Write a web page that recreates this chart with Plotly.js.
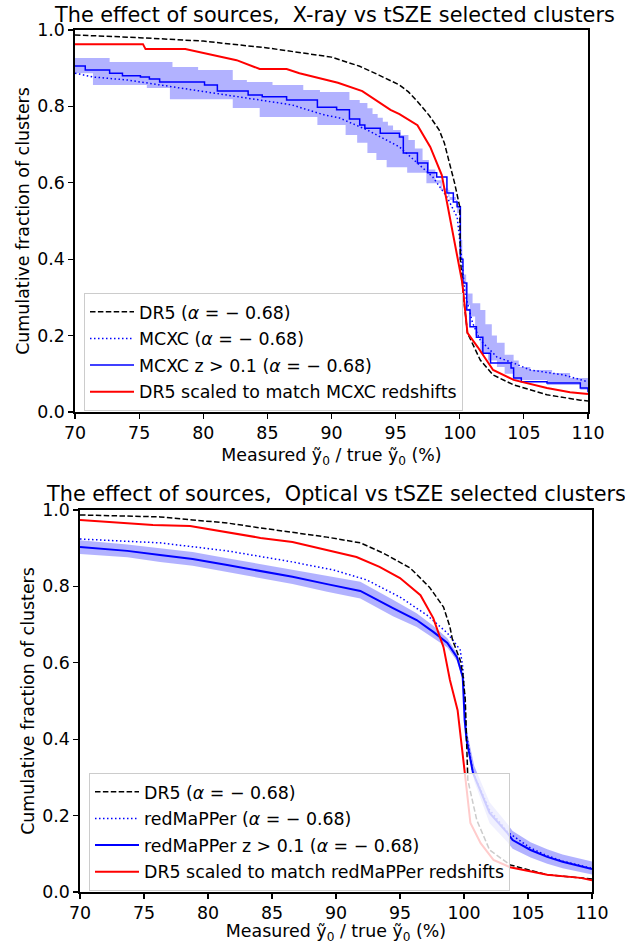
<!DOCTYPE html>
<html><head><meta charset="utf-8">
<script src="https://cdn.plot.ly/plotly-3.0.1.min.js"></script>
<style>html,body{margin:0;padding:0;background:#fff}#chart{width:625px;height:944px}</style>
</head><body><div id="chart"></div>
<script>
// ---------- Top panel: X-ray (MCXC) vs tSZE ----------
const topDr5X = [70, 75, 80, 85, 90, 92.2, 93.7, 95.3, 96.0, 96.8, 97.6, 98.4, 98.8, 99.2, 99.6, 100.0, 100.05, 100.3, 100.6, 101.6, 102.6, 104.2, 106.8, 109.4, 110];
const topDr5Y = [0.987, 0.980, 0.971, 0.953, 0.929, 0.905, 0.882, 0.856, 0.838, 0.809, 0.777, 0.738, 0.704, 0.652, 0.599, 0.537, 0.40, 0.30, 0.207, 0.136, 0.097, 0.071, 0.045, 0.031, 0.029];

const topRedX = [70, 75.3, 75.5, 78.6, 82.6, 84.4, 86.5, 87.5, 90.5, 92.4, 94.6, 95.3, 96.7, 97.7, 98.6, 99.1, 99.6, 100.2, 100.6, 101.4, 102.6, 104.2, 106.8, 108.6, 110];
const topRedY = [0.963, 0.963, 0.950, 0.950, 0.921, 0.898, 0.898, 0.887, 0.862, 0.840, 0.791, 0.780, 0.751, 0.694, 0.620, 0.530, 0.450, 0.338, 0.207, 0.170, 0.110, 0.084, 0.063, 0.052, 0.047];

const topMcxcX = [70, 71.4, 74.1, 76.6, 79.2, 81.8, 84.4, 86.9, 89.5, 90.6, 92.8, 95.3, 97.9, 99.0, 99.8, 100.1, 100.4, 101.0, 101.6, 102.9, 104.2, 105.5, 108.1, 110];
const topMcxcY = [0.887, 0.877, 0.869, 0.856, 0.843, 0.830, 0.817, 0.804, 0.777, 0.770, 0.738, 0.694, 0.615, 0.563, 0.510, 0.420, 0.312, 0.233, 0.188, 0.144, 0.128, 0.110, 0.097, 0.079];

const topMcxcZX = [70, 70.8, 72.7, 73.7, 75.1, 75.8, 76.6, 80.1, 81.1, 83.5, 84.6, 86.5, 88.9, 90.4, 91.4, 92.2, 92.6, 93.8, 95.3, 95.6, 96.7, 97.5, 98.2, 99.0, 99.5, 99.8, 100.05, 100.25, 100.55, 100.8, 101.3, 101.8, 102.4, 104.0, 104.2, 104.8, 106.8, 109.4, 110];
const topMcxcZY = [0.906, 0.895, 0.887, 0.880, 0.877, 0.872, 0.864, 0.856, 0.840, 0.830, 0.825, 0.817, 0.798, 0.791, 0.767, 0.751, 0.743, 0.730, 0.720, 0.678, 0.652, 0.626, 0.615, 0.573, 0.550, 0.537, 0.400, 0.338, 0.267, 0.223, 0.196, 0.154, 0.128, 0.115, 0.089, 0.079, 0.076, 0.063, 0.052];

const topBandUpX = [70, 72.7, 77.6, 79.6, 82.3, 83.4, 85.4, 87.8, 89.1, 91.4, 92.2, 92.8, 93.2, 93.6, 94.0, 94.4, 94.8, 95.4, 96.0, 96.5, 97.1, 97.6, 98.1, 98.6, 99.1, 99.7, 100.0, 100.2, 100.5, 101.0, 101.6, 102.0, 102.5, 102.9, 103.5, 104.2, 104.6, 105.5, 107.2, 108.6, 110];
const topBandUpY = [0.927, 0.916, 0.903, 0.895, 0.869, 0.864, 0.856, 0.843, 0.838, 0.817, 0.809, 0.795, 0.780, 0.770, 0.760, 0.750, 0.738, 0.725, 0.712, 0.690, 0.660, 0.635, 0.607, 0.585, 0.563, 0.537, 0.450, 0.360, 0.310, 0.285, 0.267, 0.230, 0.200, 0.181, 0.150, 0.135, 0.118, 0.110, 0.102, 0.089, 0.079];
const topBandLoX = [70, 71.4, 75.6, 77.4, 82.3, 84.4, 88.9, 91.1, 92.0, 92.8, 93.5, 94.3, 95.9, 97.4, 98.5, 99.2, 99.8, 100.0, 100.2, 100.4, 100.6, 100.8, 101.2, 101.6, 102.2, 102.9, 103.5, 104.2, 106.8, 109.4, 110];
const topBandLoY = [0.887, 0.856, 0.848, 0.819, 0.796, 0.772, 0.751, 0.725, 0.705, 0.678, 0.660, 0.641, 0.626, 0.599, 0.581, 0.555, 0.521, 0.400, 0.340, 0.312, 0.280, 0.250, 0.200, 0.154, 0.135, 0.118, 0.100, 0.084, 0.071, 0.058, 0.050];

// ---------- Bottom panel: Optical (redMaPPer) vs tSZE ----------
const botDr5X = [70, 76.25, 78.8, 81.5, 84.1, 86.6, 89.3, 91.9, 93.7, 95.8, 97.3, 98.4, 98.9, 99.1, 99.7, 99.9, 100.1, 100.2, 100.3, 101.0, 102.0, 103.6, 106.5, 109.1, 110];
const botDr5Y = [0.987, 0.982, 0.974, 0.966, 0.953, 0.942, 0.929, 0.914, 0.887, 0.848, 0.798, 0.746, 0.694, 0.660, 0.607, 0.573, 0.503, 0.398, 0.293, 0.188, 0.110, 0.071, 0.045, 0.037, 0.034];

const botRedX = [70, 74.1, 75.7, 78.6, 81.5, 84.1, 86.6, 89.3, 90.3, 91.6, 93.4, 95.0, 96.6, 97.6, 98.4, 98.9, 99.5, 99.8, 100.1, 100.5, 101.3, 102.3, 103.6, 106.5, 109.1, 110];
const botRedY = [0.974, 0.966, 0.961, 0.958, 0.942, 0.927, 0.916, 0.895, 0.887, 0.877, 0.851, 0.822, 0.777, 0.717, 0.641, 0.555, 0.476, 0.380, 0.301, 0.181, 0.128, 0.084, 0.065, 0.045, 0.037, 0.031];

const botRmX = [70, 76.25, 81.5, 86.6, 89.8, 92.4, 95.0, 97.1, 98.7, 99.7, 99.9, 100.08, 100.15, 100.7, 102.0, 103.4, 105.2, 106.5, 107.7, 110];
const botRmY = [0.924, 0.914, 0.893, 0.864, 0.843, 0.817, 0.772, 0.725, 0.678, 0.634, 0.589, 0.503, 0.424, 0.312, 0.215, 0.157, 0.115, 0.095, 0.081, 0.062];

const botRmZX = [70, 73.7, 76.25, 78.8, 81.5, 84.1, 86.6, 89.3, 91.9, 94.45, 96.3, 97.6, 98.7, 99.45, 99.9, 100.05, 100.2, 100.7, 102.0, 103.4, 103.8, 105.2, 106.5, 107.7, 110];
const botRmZY = [0.903, 0.893, 0.882, 0.872, 0.856, 0.840, 0.825, 0.806, 0.788, 0.743, 0.712, 0.681, 0.652, 0.615, 0.563, 0.450, 0.398, 0.312, 0.207, 0.154, 0.136, 0.110, 0.092, 0.079, 0.060];

const botBandX = [70, 73.7, 76.25, 78.8, 81.5, 84.1, 86.6, 89.3, 91.9, 94.45, 96.3, 97.6, 98.7, 99.45, 99.9, 100.1, 100.3, 100.8, 102.0, 103.4, 103.8, 105.2, 106.5, 107.7, 110];
const botBandUpY = [0.921, 0.910, 0.900, 0.890, 0.874, 0.858, 0.843, 0.826, 0.812, 0.765, 0.730, 0.697, 0.664, 0.625, 0.570, 0.470, 0.410, 0.330, 0.235, 0.178, 0.160, 0.130, 0.112, 0.098, 0.080];
const botBandLoY = [0.885, 0.876, 0.864, 0.854, 0.838, 0.822, 0.806, 0.786, 0.768, 0.722, 0.694, 0.665, 0.640, 0.605, 0.555, 0.430, 0.380, 0.290, 0.180, 0.130, 0.113, 0.090, 0.074, 0.062, 0.046];

const xTicks = [70, 75, 80, 85, 90, 95, 100, 105, 110];
const yTicks = [0.0, 0.2, 0.4, 0.6, 0.8, 1.0];

const titleTop = 'The effect of sources,  X-ray vs tSZE selected clusters';
const titleBot = 'The effect of sources,  Optical vs tSZE selected clusters';
const xLabel = 'Measured ỹ<sub>0</sub> / true ỹ<sub>0</sub> (%)';
const yLabel = 'Cumulative fraction of clusters';
const alphaTxt = ' (<i>α</i> = − 0.68)';

const namesTop = ['DR5' + alphaTxt, 'MCXC' + alphaTxt, 'MCXC z > 0.1' + alphaTxt, 'DR5 scaled to match MCXC redshifts'];
const namesBot = ['DR5' + alphaTxt, 'redMaPPer' + alphaTxt, 'redMaPPer z > 0.1' + alphaTxt, 'DR5 scaled to match redMaPPer redshifts'];

const FONT = 'DejaVu Sans, sans-serif';
const FS = 17.4;
const FT = 20.8;
const bandFill = 'rgba(0,0,255,0.3)';

function panel(xa, ya, lg, names, d, stepped, blueW) {
  const shape = stepped ? 'hv' : 'linear';
  return [
    {x: d.loX, y: d.loY, xaxis: xa, yaxis: ya, mode: 'lines', line: {width: 0, shape: shape}, showlegend: false, hoverinfo: 'skip'},
    {x: d.upX, y: d.upY, xaxis: xa, yaxis: ya, mode: 'lines', line: {width: 0, shape: shape}, fill: 'tonexty', fillcolor: bandFill, showlegend: false, hoverinfo: 'skip'},
    {x: d.zX, y: d.zY, xaxis: xa, yaxis: ya, mode: 'lines', name: names[2], legend: lg, legendgroup: lg + 'c', legendrank: 3,
     line: {color: '#0000ff', width: blueW, shape: shape}},
    {x: d.sX, y: d.sY, xaxis: xa, yaxis: ya, mode: 'lines', name: names[1], legend: lg, legendgroup: lg + 'b', legendrank: 2,
     line: {color: '#0000ff', width: 1.5, dash: '1.5px,2.5px'}},
    {x: d.dX, y: d.dY, xaxis: xa, yaxis: ya, mode: 'lines', name: names[0], legend: lg, legendgroup: lg + 'a', legendrank: 1,
     line: {color: '#000000', width: 1.5, dash: '5.5px,2.4px'}},
    {x: d.rX, y: d.rY, xaxis: xa, yaxis: ya, mode: 'lines', name: names[3], legend: lg, legendgroup: lg + 'd', legendrank: 4,
     line: {color: '#ff0000', width: 2}}
  ];
}

const traces = [].concat(
  panel('x', 'y', 'legend', namesTop, {
    loX: topBandLoX, loY: topBandLoY, upX: topBandUpX, upY: topBandUpY,
    zX: topMcxcZX, zY: topMcxcZY, sX: topMcxcX, sY: topMcxcY,
    dX: topDr5X, dY: topDr5Y, rX: topRedX, rY: topRedY}, true, 1.5),
  panel('x2', 'y2', 'legend2', namesBot, {
    loX: botBandX, loY: botBandLoY, upX: botBandX, upY: botBandUpY,
    zX: botRmZX, zY: botRmZY, sX: botRmX, sY: botRmY,
    dX: botDr5X, dY: botDr5Y, rX: botRedX, rY: botRedY}, false, 2)
);

const W = 625, H = 944;
function xax(l, r, anchor) {
  return {domain: [l / W, r / W], range: [70, 110], anchor: anchor, tickvals: xTicks,
    ticks: 'outside', ticklen: 5, tickwidth: 1.2, tickcolor: '#000',
    showline: true, linecolor: '#000', linewidth: 1.6, mirror: true,
    showgrid: false, zeroline: false,
    tickfont: {family: FONT, size: FS, color: '#000'},
    title: {text: xLabel, font: {family: FONT, size: FS, color: '#000'}, standoff: 6}};
}
function yax(t, b, anchor) {
  return {domain: [1 - b / H, 1 - t / H], range: [0, 1], anchor: anchor, tickvals: yTicks, tickformat: '.1f',
    ticks: 'outside', ticklen: 5, tickwidth: 1.2, tickcolor: '#000',
    showline: true, linecolor: '#000', linewidth: 1.6, mirror: true,
    showgrid: false, zeroline: false,
    tickfont: {family: FONT, size: FS, color: '#000'},
    title: {text: yLabel, font: {family: FONT, size: FS, color: '#000'}, standoff: 3}};
}
function leg(l, t) {
  return {x: l / W, y: 1 - t / H, xanchor: 'left', yanchor: 'top',
    bgcolor: 'rgba(255,255,255,0.8)', bordercolor: '#cccccc', borderwidth: 1,
    font: {family: FONT, size: FS, color: '#000'}, traceorder: 'grouped', tracegroupgap: 1, itemwidth: 44};
}

const layout = {
  width: W, height: H, margin: {l: 0, r: 0, t: 0, b: 0},
  paper_bgcolor: '#fff', plot_bgcolor: '#fff', showlegend: true,
  xaxis: xax(75, 588, 'y'), yaxis: yax(30, 412, 'x'),
  xaxis2: xax(80, 592, 'y2'), yaxis2: yax(510, 892, 'x2'),
  legend: leg(84, 293), legend2: leg(89, 773),
  annotations: [
    {text: titleTop, xref: 'paper', yref: 'paper', x: 334 / W, y: 1 - 15 / H, xanchor: 'center', yanchor: 'middle',
     showarrow: false, font: {family: FONT, size: FT, color: '#000'}},
    {text: titleBot, xref: 'paper', yref: 'paper', x: 336 / W, y: 1 - 494 / H, xanchor: 'center', yanchor: 'middle',
     showarrow: false, font: {family: FONT, size: FT, color: '#000'}}
  ]
};

Plotly.newPlot('chart', traces, layout, {staticPlot: true, displayModeBar: false});
</script></body></html>
